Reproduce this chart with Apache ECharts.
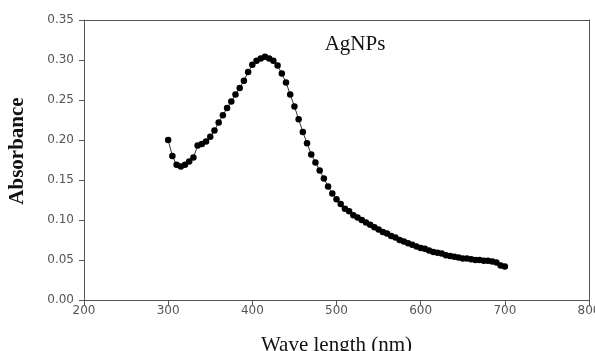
<!DOCTYPE html>
<html>
<head>
<meta charset="utf-8">
<script src="https://cdn.jsdelivr.net/npm/echarts@6/dist/echarts.min.js"></script>
<style>html,body{margin:0;padding:0;background:#fff;}#c{width:595px;height:351px;}</style>
</head>
<body>
<div id="c"></div>
<script>
var wavelengths = [300,305,310,315,320,325,330,335,340,345,350,355,360,365,370,375,380,385,390,395,400,405,410,415,420,425,430,435,440,445,450,455,460,465,470,475,480,485,490,495,500,505,510,515,520,525,530,535,540,545,550,555,560,565,570,575,580,585,590,595,600,605,610,615,620,625,630,635,640,645,650,655,660,665,670,675,680,685,690,695,700];
var absorbance = [0.200,0.180,0.169,0.167,0.169,0.173,0.178,0.193,0.195,0.198,0.204,0.212,0.222,0.231,0.240,0.248,0.257,0.265,0.274,0.285,0.294,0.299,0.302,0.304,0.302,0.299,0.293,0.283,0.272,0.257,0.242,0.226,0.210,0.196,0.182,0.172,0.162,0.152,0.142,0.133,0.126,0.120,0.114,0.111,0.106,0.103,0.100,0.097,0.094,0.091,0.088,0.085,0.083,0.080,0.078,0.075,0.073,0.071,0.069,0.067,0.065,0.064,0.062,0.060,0.059,0.058,0.056,0.055,0.054,0.053,0.052,0.052,0.051,0.050,0.050,0.049,0.049,0.048,0.047,0.043,0.042];
var seriesName = 'AgNPs';
var xTitle = 'Wave length (nm)';
var yTitle = 'Absorbance';

var data = wavelengths.map(function(w,i){return [w, absorbance[i]];});
var frameAxis = {show:true, axisLine:{show:true, onZero:false, lineStyle:{color:'#555'}}, axisTick:{show:false}, axisLabel:{show:false}, splitLine:{show:false}};
var chart = echarts.init(document.getElementById('c'), null, {renderer:'canvas'});
chart.setOption({
  animation:false,
  backgroundColor:'#fff',
  title:{text:seriesName, left:350, top:29, textAlign:'center',
    textStyle:{fontFamily:'Liberation Serif', fontWeight:'normal', fontSize:21, color:'#111'}},
  grid:{left:84, right:6, top:20, bottom:51, containLabel:false, outerBoundsMode:'none'},
  xAxis:[{type:'value', min:200, max:800, interval:100, position:'bottom',
    name:xTitle, nameLocation:'middle', nameGap:35,
    nameTextStyle:{fontFamily:'Liberation Serif', fontSize:21, color:'#111'},
    axisLine:{onZero:false, lineStyle:{color:'#555'}}, axisTick:{length:5, lineStyle:{color:'#555'}},
    axisLabel:{fontFamily:'DejaVu Sans', fontSize:12, color:'#555', margin:5},
    splitLine:{show:false}},
    Object.assign({type:'value', min:200, max:800, position:'top'}, frameAxis)],
  yAxis:[{type:'value', min:0, max:0.35, interval:0.05, position:'left',
    name:yTitle, nameLocation:'middle', nameGap:56, nameRotate:90,
    nameTextStyle:{fontFamily:'Liberation Serif', fontWeight:'bold', fontSize:21, color:'#111', padding:[0,0,0,18]},
    axisLine:{show:true, onZero:false, lineStyle:{color:'#555'}}, axisTick:{show:true, length:5, lineStyle:{color:'#555'}},
    axisLabel:{fontFamily:'DejaVu Sans', fontSize:12, color:'#555', margin:10,
      formatter:function(v){return v.toFixed(2);}},
    splitLine:{show:false}},
    Object.assign({type:'value', min:0, max:0.35, position:'right'}, frameAxis)],
  series:[{type:'line', name:seriesName, data:data, symbol:'circle', symbolSize:6.5,
    showAllSymbol:true, xAxisIndex:0, yAxisIndex:0,
    itemStyle:{color:'#000'}, lineStyle:{color:'#333', width:1}}]
});
</script>
</body>
</html>
